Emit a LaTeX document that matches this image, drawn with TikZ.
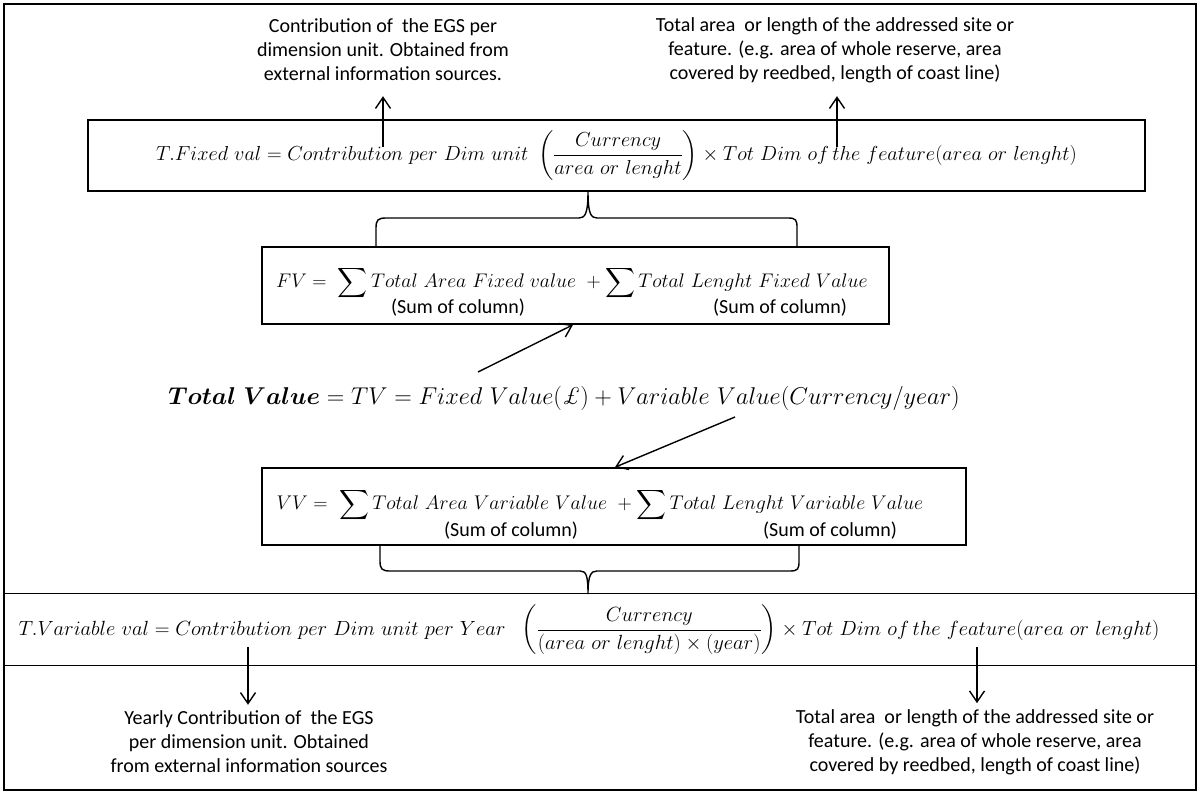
\RequirePackage{fix-cm}
\documentclass[tikz,border=0pt]{standalone}
\usepackage{fontspec}
\usepackage{amsmath}
\usepackage{bm}
\newfontfamily\calibri{Carlito}
\usetikzlibrary{arrows.meta}
\tikzset{
	boxline/.style={draw, line width=1.6pt, inner sep=0pt},
	note/.style={font=\calibri\fontsize{20}{24}\selectfont, align=center, inner sep=0pt},
	sumnote/.style={font=\calibri\fontsize{20}{24}\selectfont, inner sep=0pt},
	formula/.style={font=\fontsize{#1}{24}\selectfont, inner sep=0pt},
	formula/.default=20.3,
	arr/.style={line width=1.4pt, -{Straight Barb[length=11pt,width=15pt,line width=1.4pt]}},
	brc/.style={line width=1.4pt}
}

\begin{document}
\begin{tikzpicture}[x=1pt, y=-1pt]
			%%%%% START %%%%%
			\useasboundingbox (0,0) rectangle (1199,792);
			\draw[line width=1.6pt] (4,4) rectangle (1196,790);
			
			\node[note] (topl) at (383,50) {Contribution of\ \ the EGS per\\dimension unit. Obtained from\\external information sources.};
			\node[note] (topr) at (835,50) {Total area\ \ or length of the addressed site or\\feature. (e.g. area of whole reserve, area\\covered by reedbed, length of coast line)};
			
			\node[boxline, formula, minimum width=1057pt, minimum height=71pt] (fixbox) at (616.5,155.5)
				{$T.Fixed\ val = Contribution\ per\ Dim\ unit\ \left(\dfrac{Currency}{area\ or\ lenght}\right)\times Tot\ Dim\ of\,the\ feature(area\ or\ lenght)$};
			\coordinate (fixa) at (383,147);
			\coordinate (fixb) at (837,147);
			\draw[arr, shorten >=15pt] (fixa) -- (topl.south);
			\draw[arr, shorten >=15pt] (fixb) -- (fixb |- topl.south);
			
			% brace over the FV box
			\draw[brc] (376,247) -- (376,228) .. controls (376,220) and (378,218) .. (386,218) -- (579,218)
				.. controls (585,218) and (588,214) .. (588,191)
				.. controls (588,214) and (591,218) .. (597,218) -- (788,218)
				.. controls (796,218) and (797,220) .. (797,228) -- (797,247);
			
			\node[boxline, minimum width=627pt, minimum height=77pt] (fvbox) at (575.5,285.5) {};
			\node[formula=19.7] (fv) at (572,283) {$FV =\ \displaystyle\sum Total\ Area\ Fixed\ value\ + \sum Total\ Lenght\ Fixed\ Value$};
			\node[sumnote] (fvsa) at (458,308) {(Sum of column)};
			\node[sumnote] (fvsb) at (780,308) {(Sum of column)};
			
			\node[boxline, minimum width=704pt, minimum height=77pt] (vvbox) at (614,506.5) {};
			\node[formula=19.8] (vv) at (600,505) {$VV =\ \displaystyle\sum Total\ Area\ Variable\ Value\ + \sum Total\ Lenght\ Variable\ Value$};
			\node[sumnote] (vvsa) at (511,531) {(Sum of column)};
			\node[sumnote] (vvsb) at (830,531) {(Sum of column)};
			
			\node[formula=24.3] (tv) at (564,398) {$\bm{Total\ Value} = TV = Fixed\ Value(\mbox{\textit{£}}) + Variable\ Value(Currency/year)$};
			\coordinate (tva) at (478,372);
			\coordinate (tvb) at (735,417);
			\draw[arr] (tva) -- ([xshift=-2.5pt]fvbox.south);
			\draw[arr] (tvb) -- ([xshift=1pt]vvbox.north);
			
			% brace under the VV box
			\draw[brc] (380,545) -- (380,561) .. controls (380,569) and (382,571) .. (390,571) -- (580,571)
				.. controls (586,571) and (588,575) .. (588,594)
				.. controls (588,575) and (591,571) .. (597,571) -- (790,571)
				.. controls (798,571) and (799,569) .. (799,561) -- (799,545);
			
			\node[boxline, minimum width=1192pt, minimum height=72pt] (varbox) at (600,629.5) {};
			\node[formula=20.5] (var) at (589,630)
				{$T.Variable\ val = Contribution\ per\ Dim\ unit\ per\ Year\ \ \left(\dfrac{Currency}{(area\ or\ lenght)\times(year)}\right)\times Tot\ Dim\ of\,the\ feature(area\ or\ lenght)$};
			
			\node[note] (botl) at (249,742) {Yearly Contribution of\ \ the EGS\\per dimension unit. Obtained\\from external information sources};
			\node[note] (botr) at (975,742) {Total area\ \ or length of the addressed site or\\feature. (e.g. area of whole reserve, area\\covered by reedbed, length of coast line)};
			\coordinate (vara) at (248,647);
			\coordinate (varb) at (977,647);
			\draw[arr, shorten >=6pt] (vara) -- (vara |- botl.north);
			\draw[arr, shorten >=6pt] (varb) -- (varb |- botr.north);
			%%%%% END %%%%%
\end{tikzpicture}
\end{document}
